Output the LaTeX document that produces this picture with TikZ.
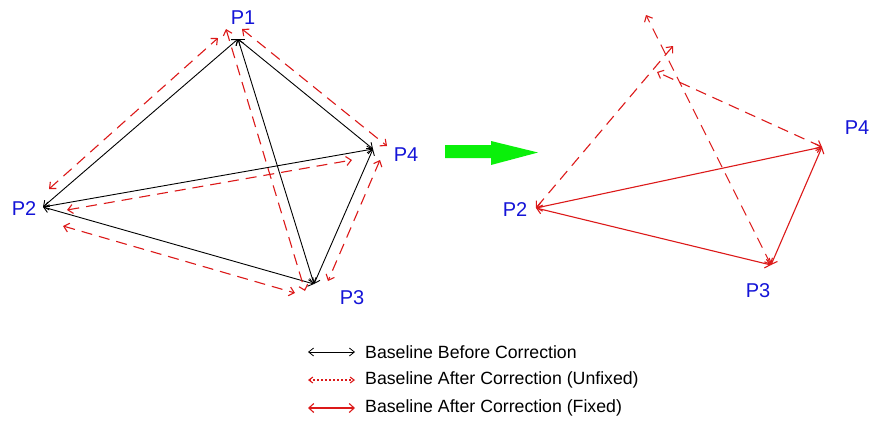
\documentclass[tikz,border=0pt]{standalone}
\usepackage{fontspec}
\setmainfont{Liberation Sans}
\usetikzlibrary{arrows.meta}
\definecolor{lblue}{RGB}{20,20,215}
\definecolor{lred}{RGB}{220,25,25}
\definecolor{lgreen}{RGB}{10,240,10}
\tikzset{
  blk/.style={draw=black, line width=0.9pt, {Straight Barb[length=5pt,width=8pt]}-{Straight Barb[length=5pt,width=8pt]}},
  rdash/.style={draw=lred, line width=1.1pt, dash pattern=on 11pt off 7pt, {Straight Barb[length=5pt,width=9pt]}-{Straight Barb[length=5pt,width=9pt]}},
  rsolid/.style={draw=lred, line width=1.1pt, {Straight Barb[length=5pt,width=9pt]}-{Straight Barb[length=5pt,width=9pt]}},
  rdot/.style={draw=lred, line width=1.1pt, dash pattern=on 2pt off 2pt, {Straight Barb[length=4pt,width=6pt]}-{Straight Barb[length=4pt,width=6pt]}},
  plabel/.style={text=lblue, font=\fontsize{20}{20}\selectfont, inner sep=0pt},
  legtext/.style={anchor=west, font=\fontsize{17.7}{18}\selectfont, inner sep=0pt}
}
\begin{document}
\begin{tikzpicture}[x=1pt,y=-1pt]
\useasboundingbox (0,0) rectangle (871,421);
% left points
\coordinate (A1) at (238,39);
\coordinate (A2) at (43,207);
\coordinate (A3) at (314,284);
\coordinate (A4) at (373,149);
% labels
\node[plabel] (LP1) at (243,18) {P1};
\node[plabel] (LP2) at (24,209) {P2};
\node[plabel] (LP3) at (352,298) {P3};
\node[plabel] (LP4) at (406,155) {P4};
% black baselines
\draw[blk] (A1) -- (A2);
\draw[blk] (A1) -- (A3);
\draw[blk] (A1) -- (A4);
\draw[blk] (A2) -- (A4);
\draw[blk] (A2) -- (A3);
\draw[blk] (A3) -- (A4);
% red dashed offsets
\coordinate (d21a) at (49,189);  \coordinate (d21b) at (218,38);
\coordinate (d13a) at (226,29);  \coordinate (d13b) at (305,291);
\coordinate (d14a) at (242,29);  \coordinate (d14b) at (387,146);
\coordinate (d43a) at (380,160); \coordinate (d43b) at (328,281);
\coordinate (d23a) at (63,226);  \coordinate (d23b) at (295,293);
\coordinate (d24a) at (67,210);  \coordinate (d24b) at (352,160);
\draw[rdash] (d21a) -- (d21b);
\draw[rdash] (d13a) -- (d13b);
\draw[rdash] (d14a) -- (d14b);
\draw[rdash] (d43a) -- (d43b);
\draw[rdash] (d23a) -- (d23b);
\draw[rdash] (d24a) -- (d24b);
% green arrow
\fill[lgreen] (445,145) -- (491,145) -- (491,141) -- (538,152.5) -- (491,165) -- (491,158) -- (445,158) -- cycle;
% right points
\coordinate (B2) at (536,208);
\coordinate (B3) at (771,265);
\coordinate (B4) at (822,147);
\coordinate (E2) at (673,46);
\coordinate (E3) at (646,15);
\coordinate (E4) at (657,72);
\node[plabel] (RP2) at (515,210) {P2};
\node[plabel] (RP3) at (758,291) {P3};
\node[plabel] (RP4) at (857,128) {P4};
\draw[rdash] (B2) -- (E2);
\draw[rdash] (B3) -- (E3);
\draw[rdash] (B4) -- (E4);
\draw[rsolid] (B2) -- (B4);
\draw[rsolid] (B2) -- (B3);
\draw[rsolid] (B3) -- (B4);
% legend
\coordinate (L1a) at (308,352); \coordinate (L1b) at (355,352);
\coordinate (L2a) at (308,380); \coordinate (L2b) at (355,380);
\coordinate (L3a) at (308,408); \coordinate (L3b) at (355,408);
\draw[blk, line width=0.8pt] (L1a) -- (L1b);
\draw[rdot] (L2a) -- (L2b);
\draw[rsolid] (L3a) -- (L3b);
\node[legtext] (T1) at (365,352) {Baseline Before Correction};
\node[legtext] (T2) at (365,380) {Baseline After Correction (Unfixed)};
\node[legtext] (T3) at (365,408) {Baseline After Correction (Fixed)};
\end{tikzpicture}
\end{document}
